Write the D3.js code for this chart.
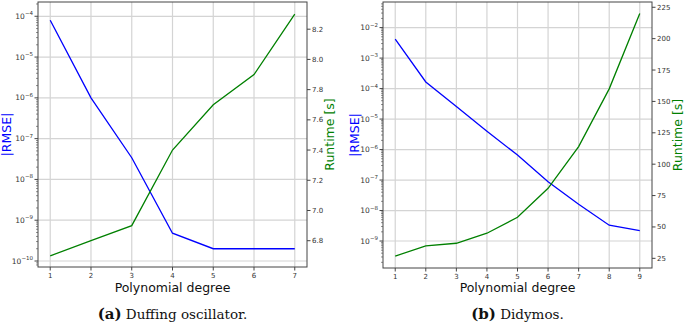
<!DOCTYPE html>
<html>
<head>
<meta charset="utf-8">
<script src="https://cdn.jsdelivr.net/npm/d3@7"></script>
<style>
  body { margin: 0; background: #fff; }
  svg text { font-family: "DejaVu Sans", sans-serif; }
</style>
</head>
<body>
<div id="chart"></div>
<script>
// Duffing oscillator
const degreesA = [1, 2, 3, 4, 5, 6, 7];
const rmseA = [8e-5, 1e-6, 3.4e-8, 4.8e-10, 2e-10, 2e-10, 2e-10];
const runtimeA = [6.70, 6.80, 6.90, 7.40, 7.70, 7.90, 8.30];
const rmseTicksA = [-10, -9, -8, -7, -6, -5, -4];
const runtimeTicksA = [6.8, 7.0, 7.2, 7.4, 7.6, 7.8, 8.0, 8.2];

// Didymos
const degreesB = [1, 2, 3, 4, 5, 6, 7, 8, 9];
const rmseB = [4.2e-3, 1.65e-4, 2.6e-5, 4e-6, 6.6e-7, 8.8e-8, 1.6e-8, 3.3e-9, 2.2e-9];
const runtimeB = [26.8, 35, 37, 45, 57.7, 80.8, 114, 160, 220];
const rmseTicksB = [-9, -8, -7, -6, -5, -4, -3, -2];
const runtimeTicksB = [25, 50, 75, 100, 125, 150, 175, 200, 225];

const width = 685;
const height = 323;

const svg = d3.select("#chart")
    .append("svg")
    .attr("width", width)
    .attr("height", height);

function drawPanel(p) {
    const top = 2, bottom = p.bottom;

    const x = d3.scaleLinear().domain(p.xDomain).range([p.left, p.right]);
    const yL = d3.scaleLog().domain(p.logDomain).range([bottom, top]);
    const yR = d3.scaleLinear().domain(p.runDomain).range([bottom, top]);

    const g = svg.append("g");

    // grid
    g.selectAll(".vgrid")
        .data(p.degrees)
        .enter()
        .append("line")
        .attr("x1", d => x(d)).attr("x2", d => x(d))
        .attr("y1", top).attr("y2", bottom)
        .attr("stroke", "#d4d4d4")
        .attr("stroke-width", 1.2);

    g.selectAll(".hgrid")
        .data(p.logTicks)
        .enter()
        .append("line")
        .attr("x1", p.left).attr("x2", p.right)
        .attr("y1", d => yL(Math.pow(10, d))).attr("y2", d => yL(Math.pow(10, d)))
        .attr("stroke", "#d4d4d4")
        .attr("stroke-width", 1.2);

    // lines
    const lineL = d3.line().x((d, i) => x(p.degrees[i])).y(d => yL(d));
    const lineR = d3.line().x((d, i) => x(p.degrees[i])).y(d => yR(d));

    g.append("path")
        .attr("d", lineL(p.rmse))
        .attr("fill", "none")
        .attr("stroke", "#0000ff")
        .attr("stroke-width", 1.3);

    g.append("path")
        .attr("d", lineR(p.runtime))
        .attr("fill", "none")
        .attr("stroke", "#008000")
        .attr("stroke-width", 1.3);

    // frame
    g.append("rect")
        .attr("x", p.left).attr("y", top)
        .attr("width", p.right - p.left).attr("height", bottom - top)
        .attr("fill", "none")
        .attr("stroke", "#444")
        .attr("stroke-width", 1);

    // x ticks
    p.degrees.forEach(d => {
        g.append("line")
            .attr("x1", x(d)).attr("x2", x(d))
            .attr("y1", bottom).attr("y2", bottom + 3.5)
            .attr("stroke", "#444");
        g.append("text")
            .attr("x", x(d)).attr("y", bottom + 11)
            .attr("text-anchor", "middle")
            .attr("font-size", 7)
            .attr("fill", "#333")
            .text(d);
    });

    // left log ticks (major + minor)
    const [lo, hi] = p.logDomain;
    for (let e = Math.floor(Math.log10(lo)); e <= Math.ceil(Math.log10(hi)); e++) {
        for (let m = 2; m <= 9; m++) {
            const v = m * Math.pow(10, e);
            if (v < lo || v > hi) continue;
            g.append("line")
                .attr("x1", p.left).attr("x2", p.left - 2)
                .attr("y1", yL(v)).attr("y2", yL(v))
                .attr("stroke", "#444").attr("stroke-width", 0.6);
        }
    }
    p.logTicks.forEach(e => {
        const yy = yL(Math.pow(10, e));
        g.append("line")
            .attr("x1", p.left).attr("x2", p.left - 3.5)
            .attr("y1", yy).attr("y2", yy)
            .attr("stroke", "#444");
        const t = g.append("text")
            .attr("x", p.left - 5).attr("y", yy + 2.5)
            .attr("text-anchor", "end")
            .attr("font-size", 7.5)
            .attr("fill", "#333");
        t.append("tspan").text("10");
        t.append("tspan")
            .attr("font-size", 5.5)
            .attr("dy", -3.5)
            .text("\u2212" + Math.abs(e));
    });

    // right ticks
    p.runTicks.forEach(v => {
        const yy = yR(v);
        g.append("line")
            .attr("x1", p.right).attr("x2", p.right + 3.5)
            .attr("y1", yy).attr("y2", yy)
            .attr("stroke", "#444");
        g.append("text")
            .attr("x", p.right + 5).attr("y", yy + 2.5)
            .attr("font-size", 7)
            .attr("fill", "#333")
            .text(p.runFormat(v));
    });

    const midY = (top + bottom) / 2;

    // axis labels
    g.append("text")
        .attr("transform", `translate(${p.leftLabelX}, ${midY}) rotate(-90)`)
        .attr("text-anchor", "middle")
        .attr("font-size", 12.5)
        .attr("fill", "#0000ff")
        .text("|RMSE|");

    g.append("text")
        .attr("transform", `translate(${p.rightLabelX}, ${midY}) rotate(-90)`)
        .attr("text-anchor", "middle")
        .attr("font-size", 12.5)
        .attr("fill", "#008000")
        .text("Runtime [s]");

    g.append("text")
        .attr("x", (p.left + p.right) / 2).attr("y", 292)
        .attr("text-anchor", "middle")
        .attr("font-size", 12.5)
        .attr("fill", "#111")
        .text("Polynomial degree");

    // caption
    const cap = g.append("text")
        .attr("x", (p.left + p.right) / 2).attr("y", 319)
        .attr("text-anchor", "middle")
        .attr("fill", "#111")
        .style("font-family", "'DejaVu Serif', 'Liberation Serif', serif");
    cap.append("tspan")
        .attr("font-weight", "bold")
        .attr("font-size", 15)
        .text(p.tag);
    cap.append("tspan")
        .attr("font-size", 13.5)
        .text(" " + p.caption);
}

drawPanel({
    degrees: degreesA, rmse: rmseA, runtime: runtimeA,
    logTicks: rmseTicksA, runTicks: runtimeTicksA,
    runFormat: d3.format(".1f"),
    left: 38, right: 307, bottom: 267,
    xDomain: [0.7, 7.3],
    logDomain: [Math.pow(10, -10.147), Math.pow(10, -3.65)],
    runDomain: [6.626, 8.38],
    leftLabelX: 11, rightLabelX: 334,
    tag: "(a)", caption: "Duffing oscillator."
});

drawPanel({
    degrees: degreesB, rmse: rmseB, runtime: runtimeB,
    logTicks: rmseTicksB, runTicks: runtimeTicksB,
    runFormat: d3.format("d"),
    left: 383, right: 652, bottom: 268,
    xDomain: [0.6, 9.4],
    logDomain: [Math.pow(10, -9.885), Math.pow(10, -1.16)],
    runDomain: [17.3, 229.2],
    leftLabelX: 359, rightLabelX: 682,
    tag: "(b)", caption: "Didymos."
});
</script>
</body>
</html>
